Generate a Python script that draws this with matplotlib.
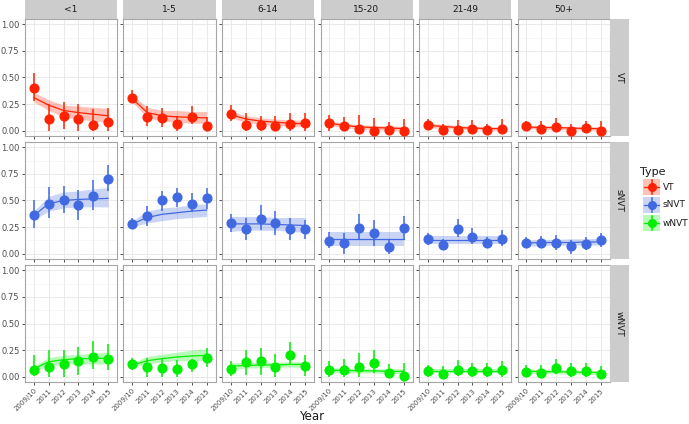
import matplotlib
matplotlib.use("Agg")
import matplotlib.pyplot as plt
from matplotlib.patches import Rectangle

years = ["2009/10", "2011", "2012", "2013", "2014", "2015"]
ages = ["<1", "1-5", "6-14", "15-20", "21-49", "50+"]
types = ["VT", "sNVT", "wNVT"]
colors = {"VT": "#FF2200", "sNVT": "#4169E1", "wNVT": "#00EE00"}
y_ticks = [0.0, 0.25, 0.5, 0.75, 1.0]
y_labels = ["0.00", "0.25", "0.50", "0.75", "1.00"]
y_minor = [0.125, 0.375, 0.625, 0.875]

# observed proportions (one list per age group)
vt_pt = [[0.40, 0.11, 0.14, 0.11, 0.05, 0.08],
         [0.31, 0.13, 0.12, 0.06, 0.13, 0.04],
         [0.16, 0.05, 0.05, 0.04, 0.06, 0.07],
         [0.07, 0.04, 0.02, 0.0, 0.01, 0.0],
         [0.05, 0.01, 0.01, 0.02, 0.01, 0.015],
         [0.04, 0.02, 0.03, 0.0, 0.025, 0.0]]
vt_lo = [[0.28, 0.0, 0.02, 0.0, 0.0, 0.0],
         [0.27, 0.04, 0.03, 0.0, 0.06, 0.0],
         [0.09, 0.0, 0.0, 0.0, 0.0, 0.0],
         [0.0, 0.0, 0.0, 0.0, 0.0, 0.0],
         [0.02, 0.0, 0.0, 0.0, 0.0, 0.0],
         [0.02, 0.0, 0.0, 0.0, 0.0, 0.0]]
vt_hi = [[0.54, 0.25, 0.27, 0.25, 0.20, 0.21],
         [0.38, 0.23, 0.21, 0.14, 0.23, 0.13],
         [0.24, 0.17, 0.14, 0.14, 0.17, 0.17],
         [0.15, 0.13, 0.15, 0.12, 0.08, 0.11],
         [0.11, 0.06, 0.10, 0.10, 0.06, 0.11],
         [0.09, 0.09, 0.12, 0.06, 0.09, 0.09]]
vt_fit = [[0.31, 0.24, 0.19, 0.17, 0.155, 0.14],
          [0.30, 0.17, 0.14, 0.13, 0.125, 0.12],
          [0.15, 0.11, 0.09, 0.08, 0.07, 0.065],
          [0.07, 0.05, 0.035, 0.03, 0.025, 0.02],
          [0.05, 0.04, 0.03, 0.025, 0.02, 0.02],
          [0.035, 0.03, 0.03, 0.025, 0.02, 0.02]]
vt_band_lo = [[0.27, 0.19, 0.13, 0.11, 0.09, 0.08],
              [0.27, 0.12, 0.09, 0.08, 0.07, 0.07],
              [0.12, 0.08, 0.06, 0.05, 0.04, 0.04],
              [0.05, 0.03, 0.015, 0.01, 0.005, 0.0],
              [0.03, 0.02, 0.015, 0.01, 0.005, 0.005],
              [0.02, 0.015, 0.01, 0.01, 0.005, 0.005]]
vt_band_hi = [[0.36, 0.29, 0.24, 0.23, 0.22, 0.21],
              [0.33, 0.22, 0.19, 0.19, 0.18, 0.18],
              [0.18, 0.14, 0.12, 0.11, 0.10, 0.10],
              [0.09, 0.07, 0.055, 0.05, 0.045, 0.04],
              [0.07, 0.06, 0.05, 0.04, 0.035, 0.035],
              [0.05, 0.045, 0.045, 0.04, 0.035, 0.035]]

snvt_pt = [[0.36, 0.47, 0.50, 0.46, 0.54, 0.70],
           [0.28, 0.35, 0.50, 0.53, 0.47, 0.52],
           [0.29, 0.23, 0.325, 0.29, 0.23, 0.23],
           [0.12, 0.10, 0.24, 0.19, 0.06, 0.245],
           [0.14, 0.08, 0.235, 0.16, 0.105, 0.135],
           [0.10, 0.105, 0.10, 0.07, 0.09, 0.125]]
snvt_lo = [[0.24, 0.34, 0.38, 0.32, 0.41, 0.59],
           [0.23, 0.26, 0.40, 0.44, 0.39, 0.42],
           [0.20, 0.13, 0.22, 0.18, 0.13, 0.14],
           [0.05, 0.0, 0.13, 0.07, 0.0, 0.13],
           [0.08, 0.03, 0.16, 0.09, 0.06, 0.07],
           [0.05, 0.05, 0.035, 0.0, 0.035, 0.065]]
snvt_hi = [[0.50, 0.63, 0.635, 0.595, 0.69, 0.835],
           [0.34, 0.445, 0.59, 0.62, 0.57, 0.62],
           [0.37, 0.34, 0.455, 0.40, 0.34, 0.32],
           [0.20, 0.19, 0.37, 0.315, 0.13, 0.35],
           [0.19, 0.135, 0.33, 0.24, 0.16, 0.22],
           [0.16, 0.17, 0.18, 0.13, 0.16, 0.19]]
snvt_fit = [[0.36, 0.47, 0.50, 0.51, 0.515, 0.52],
            [0.28, 0.34, 0.37, 0.385, 0.40, 0.41],
            [0.28, 0.28, 0.28, 0.275, 0.27, 0.265],
            [0.135, 0.135, 0.135, 0.135, 0.135, 0.135],
            [0.13, 0.13, 0.13, 0.13, 0.13, 0.13],
            [0.10, 0.105, 0.105, 0.105, 0.11, 0.11]]
snvt_band_lo = [[0.32, 0.40, 0.43, 0.44, 0.44, 0.44],
                [0.25, 0.29, 0.31, 0.33, 0.34, 0.35],
                [0.21, 0.22, 0.22, 0.22, 0.21, 0.20],
                [0.07, 0.07, 0.07, 0.07, 0.07, 0.07],
                [0.09, 0.09, 0.09, 0.09, 0.09, 0.09],
                [0.07, 0.075, 0.08, 0.08, 0.08, 0.08]]
snvt_band_hi = [[0.40, 0.54, 0.58, 0.59, 0.61, 0.62],
                [0.31, 0.40, 0.43, 0.44, 0.46, 0.47],
                [0.35, 0.35, 0.35, 0.34, 0.34, 0.34],
                [0.20, 0.20, 0.20, 0.20, 0.20, 0.20],
                [0.17, 0.17, 0.17, 0.17, 0.17, 0.17],
                [0.13, 0.135, 0.135, 0.14, 0.14, 0.145]]

wnvt_pt = [[0.065, 0.09, 0.12, 0.15, 0.185, 0.165],
           [0.115, 0.09, 0.085, 0.075, 0.115, 0.18],
           [0.075, 0.135, 0.15, 0.095, 0.20, 0.105],
           [0.065, 0.065, 0.09, 0.13, 0.035, 0.01],
           [0.05, 0.025, 0.065, 0.05, 0.05, 0.06],
           [0.045, 0.03, 0.085, 0.055, 0.055, 0.025]]
wnvt_lo = [[0.01, 0.0, 0.0, 0.02, 0.07, 0.06],
           [0.06, 0.0, 0.0, 0.0, 0.04, 0.09],
           [0.01, 0.02, 0.02, 0.0, 0.12, 0.01],
           [0.0, 0.0, 0.0, 0.03, 0.0, 0.0],
           [0.0, 0.0, 0.01, 0.0, 0.0, 0.0],
           [0.0, 0.0, 0.025, 0.0, 0.0, 0.0]]
wnvt_hi = [[0.20, 0.25, 0.25, 0.28, 0.335, 0.305],
           [0.18, 0.18, 0.18, 0.16, 0.17, 0.27],
           [0.15, 0.25, 0.27, 0.215, 0.325, 0.20],
           [0.15, 0.17, 0.22, 0.25, 0.12, 0.13],
           [0.11, 0.10, 0.16, 0.13, 0.13, 0.15],
           [0.11, 0.11, 0.17, 0.13, 0.13, 0.10]]
wnvt_fit = [[0.075, 0.14, 0.16, 0.17, 0.17, 0.175],
            [0.11, 0.15, 0.17, 0.185, 0.195, 0.20],
            [0.10, 0.105, 0.11, 0.11, 0.115, 0.115],
            [0.06, 0.06, 0.055, 0.055, 0.05, 0.05],
            [0.05, 0.05, 0.05, 0.05, 0.05, 0.05],
            [0.05, 0.05, 0.045, 0.045, 0.04, 0.04]]
wnvt_band_lo = [[0.05, 0.10, 0.12, 0.12, 0.12, 0.12],
                [0.09, 0.12, 0.14, 0.15, 0.15, 0.15],
                [0.07, 0.08, 0.085, 0.09, 0.09, 0.09],
                [0.035, 0.035, 0.035, 0.035, 0.03, 0.03],
                [0.03, 0.03, 0.03, 0.03, 0.03, 0.03],
                [0.03, 0.03, 0.025, 0.025, 0.02, 0.02]]
wnvt_band_hi = [[0.10, 0.18, 0.20, 0.21, 0.22, 0.23],
                [0.13, 0.19, 0.21, 0.23, 0.25, 0.26],
                [0.13, 0.13, 0.135, 0.135, 0.14, 0.14],
                [0.085, 0.08, 0.075, 0.075, 0.075, 0.075],
                [0.07, 0.07, 0.07, 0.07, 0.07, 0.07],
                [0.07, 0.07, 0.065, 0.065, 0.06, 0.06]]

series = {
    "VT": (vt_pt, vt_lo, vt_hi, vt_fit, vt_band_lo, vt_band_hi),
    "sNVT": (snvt_pt, snvt_lo, snvt_hi, snvt_fit, snvt_band_lo, snvt_band_hi),
    "wNVT": (wnvt_pt, wnvt_lo, wnvt_hi, wnvt_fit, wnvt_band_lo, wnvt_band_hi),
}

W, H = 689, 424
fig = plt.figure(figsize=(W / 100, H / 100), dpi=100)

def px(x, y, w, h):
    # pixel box (top-left origin) -> figure fraction
    return [x / W, 1 - (y + h) / H, w / W, h / H]

col_x = [25, 123.5, 222, 320.5, 419, 517.5]
row_y = [19, 142, 265]
pw, ph = 92, 117
strip_fill = "#CCCCCC"
border = "#A6A6A6"
xs = list(range(len(years)))

for r, t in enumerate(types):
    pt, lo, hi, fit, blo, bhi = series[t]
    c = colors[t]
    for j, age in enumerate(ages):
        ax = fig.add_axes(px(col_x[j], row_y[r], pw, ph))
        ax.fill_between(xs, blo[j], bhi[j], color=c, alpha=0.28, lw=0)
        ax.plot(xs, fit[j], color=c, lw=0.9)
        yerr = [[p - l for p, l in zip(pt[j], lo[j])],
                [h - p for p, h in zip(pt[j], hi[j])]]
        ax.errorbar(xs, pt[j], yerr=yerr, fmt="o", color=c, ms=6.3,
                    elinewidth=1.1, capsize=0, zorder=3)

        ax.set_xlim(-0.6, 5.6)
        ax.set_ylim(-0.05, 1.05)
        ax.set_yticks(y_ticks)
        ax.set_yticks(y_minor, minor=True)
        ax.set_xticks(xs)
        ax.grid(True, which="major", color="#E6E6E6", lw=0.6)
        ax.grid(True, which="minor", axis="y", color="#F2F2F2", lw=0.4)
        ax.set_axisbelow(True)
        for s in ax.spines.values():
            s.set_color(border)
            s.set_linewidth(0.8)
        ax.tick_params(length=2.5, width=0.6, color="#333333", labelsize=6,
                       labelcolor="#4D4D4D", pad=1.5)
        ax.tick_params(which="minor", length=0)

        if j == 0:
            ax.set_yticklabels(y_labels)
        else:
            ax.set_yticklabels([])
        if r == 2:
            ax.set_xticklabels(years, rotation=45, ha="right",
                               rotation_mode="anchor", fontsize=5)
        else:
            ax.set_xticklabels([])

        if r == 0:
            sax = fig.add_axes(px(col_x[j], 0, pw, 19))
            sax.set_facecolor(strip_fill)
            sax.set_xticks([])
            sax.set_yticks([])
            for s in sax.spines.values():
                s.set_visible(False)
            sax.text(0.5, 0.5, age, ha="center", va="center",
                     fontsize=6.5, color="#1A1A1A", transform=sax.transAxes)

    rax = fig.add_axes(px(610, row_y[r], 19, ph))
    rax.set_facecolor(strip_fill)
    rax.set_xticks([])
    rax.set_yticks([])
    for s in rax.spines.values():
        s.set_visible(False)
    rax.text(0.5, 0.5, t, ha="center", va="center", rotation=-90,
             fontsize=6.5, color="#1A1A1A", transform=rax.transAxes)

fig.text(312 / W, 1 - 416 / H, "Year", ha="center", va="center",
         fontsize=8.5, color="#1A1A1A")

# legend
fig.text(640 / W, 1 - 172 / H, "Type", ha="left", va="center",
         fontsize=8, color="#1A1A1A")
lax = fig.add_axes(px(642, 178, 19, 54))
lax.set_xlim(0, 1)
lax.set_ylim(0, 3)
lax.axis("off")
for k, t in enumerate(types):
    yc = 2.5 - k
    c = colors[t]
    lax.add_patch(Rectangle((0.03, yc - 0.47), 0.94, 0.94, facecolor=c,
                            alpha=0.28, lw=0))
    lax.plot([0.1, 0.9], [yc, yc], color=c, lw=0.9)
    lax.plot([0.5, 0.5], [yc - 0.4, yc + 0.4], color=c, lw=1.1)
    lax.plot([0.5], [yc], "o", color=c, ms=5.5)
    fig.text(663 / W, 1 - (178 + 9 + 18 * k) / H, t, ha="left",
             va="center", fontsize=6.5, color="#1A1A1A")

fig.savefig("out.png", dpi=100)
